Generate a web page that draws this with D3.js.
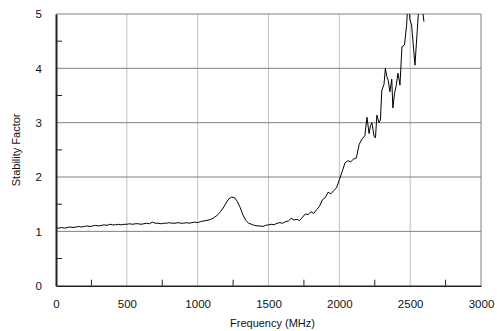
<!DOCTYPE html>
<html>
<head>
<meta charset="utf-8">
<script src="https://cdn.jsdelivr.net/npm/d3@7"></script>
<style>
  body { margin: 0; background: #fff; }
  text { font-family: "Liberation Sans", Arial, sans-serif; fill: #111; }
</style>
</head>
<body>
<svg id="chart" width="497" height="331"></svg>
<script>
// Stability factor vs frequency
const FREQ = [
  0, 20, 40, 60, 80, 100, 120, 140, 160, 180, 200, 220, 240, 260, 280, 300,
  320, 340, 360, 380, 400, 420, 440, 460, 480, 500, 520, 540, 560, 580, 600,
  620, 640, 660, 680, 700, 720, 740, 760, 780, 800, 820, 840, 860, 880, 900,
  920, 940, 960, 980, 1000, 1020, 1040, 1060, 1080, 1100, 1120, 1140, 1160,
  1180, 1200, 1220, 1240, 1260, 1280, 1300, 1320, 1340, 1360, 1380, 1400,
  1420, 1440, 1460, 1480, 1500, 1520, 1540, 1560, 1580, 1600, 1620, 1640,
  1660, 1680, 1700, 1720, 1740, 1760, 1780, 1800, 1820, 1840, 1860, 1880,
  1900, 1920, 1940, 1960, 1980, 2000, 2020, 2040, 2060, 2080, 2100, 2120,
  2140, 2160, 2180, 2195, 2210, 2220, 2230, 2245, 2255, 2265, 2280, 2290,
  2300, 2315, 2325, 2335, 2345, 2357, 2370, 2378, 2390, 2400, 2414, 2428,
  2442, 2460, 2475, 2488, 2498, 2510, 2534, 2550, 2565, 2583, 2597
];
const STABILITY = [
  1.07, 1.06, 1.07, 1.06, 1.07, 1.08, 1.07, 1.08, 1.09, 1.08, 1.09, 1.10, 1.09, 1.10, 1.11, 1.10,
  1.11, 1.12, 1.11, 1.13, 1.12, 1.12, 1.13, 1.12, 1.13, 1.13, 1.14, 1.13, 1.14, 1.14, 1.13,
  1.14, 1.15, 1.14, 1.17, 1.15, 1.15, 1.14, 1.15, 1.15, 1.16, 1.15, 1.15, 1.16, 1.15, 1.15,
  1.16, 1.15, 1.16, 1.17, 1.16, 1.18, 1.19, 1.20, 1.21, 1.23, 1.26, 1.30, 1.36,
  1.43, 1.52, 1.60, 1.63, 1.62, 1.55, 1.44, 1.30, 1.20, 1.15, 1.13, 1.11,
  1.10, 1.10, 1.09, 1.11, 1.12, 1.13, 1.12, 1.15, 1.16, 1.15, 1.18, 1.19,
  1.24, 1.21, 1.22, 1.20, 1.26, 1.32, 1.31, 1.36, 1.33, 1.40, 1.46, 1.58,
  1.62, 1.72, 1.69, 1.75, 1.80, 1.95, 2.10, 2.26, 2.30, 2.28, 2.33, 2.35,
  2.60, 2.70, 2.76, 3.10, 2.80, 2.95, 3.00, 2.75, 2.72, 3.14, 3.00, 3.05,
  3.60, 3.70, 4.00, 3.85, 3.78, 3.57, 3.80, 3.27, 3.55, 3.66, 3.91, 3.69,
  4.40, 4.43, 4.80, 5.40, 4.90, 4.80, 4.06, 4.70, 5.30, 5.20, 4.86
];
const X_TICKS = [0, 500, 1000, 1500, 2000, 2500, 3000];
const Y_TICKS = [0, 1, 2, 3, 4, 5];
const X_MINOR = [250, 750, 1250, 1750, 2250, 2750];
const Y_MINOR = [0.5, 1.5, 2.5, 3.5, 4.5];

const svg = d3.select('#chart');
const L = 56, R = 481, T = 14, B = 285.7;
const FONT = '"Liberation Sans", Arial, sans-serif';

const x = d3.scaleLinear().domain([0, 3000]).range([L, R]);
const y = d3.scaleLinear().domain([0, 5]).range([B, T]);

svg.append('defs').append('clipPath').attr('id', 'plot-clip')
  .append('rect').attr('x', L).attr('y', T).attr('width', R - L).attr('height', B - T);

// vertical grid (light)
svg.append('g').selectAll('line')
  .data(X_TICKS.filter(d => d > 0 && d < 3000))
  .join('line')
  .attr('x1', d => x(d)).attr('x2', d => x(d))
  .attr('y1', T).attr('y2', B)
  .attr('stroke', '#c0c0c0').attr('stroke-width', 1);

// horizontal grid (darker)
svg.append('g').selectAll('line')
  .data(Y_TICKS.filter(d => d > 0))
  .join('line')
  .attr('x1', L).attr('x2', R)
  .attr('y1', d => y(d)).attr('y2', d => y(d))
  .attr('stroke', '#808080').attr('stroke-width', 1);

// right border
svg.append('line')
  .attr('x1', R).attr('x2', R).attr('y1', T).attr('y2', B)
  .attr('stroke', '#808080').attr('stroke-width', 1);

// data line
const line = d3.line().x((d, i) => x(FREQ[i])).y(d => y(d));
svg.append('path')
  .datum(STABILITY)
  .attr('clip-path', 'url(#plot-clip)')
  .attr('d', line)
  .attr('fill', 'none')
  .attr('stroke', '#000')
  .attr('stroke-width', 1);

// axes
const xAxis = d3.axisBottom(x).tickValues(X_TICKS).tickFormat(d3.format('d')).tickSize(0).tickPadding(14);
const gx = svg.append('g').attr('transform', `translate(0,${B})`).call(xAxis);
gx.select('.domain').attr('stroke', '#222').attr('stroke-width', 1.5);
gx.selectAll('text').attr('font-size', 11.5).attr('font-family', FONT).attr('fill', '#111');

const yAxis = d3.axisLeft(y).tickValues(Y_TICKS).tickFormat(d3.format('d')).tickSize(0).tickPadding(14);
const gy = svg.append('g').attr('transform', `translate(${L},0)`).call(yAxis);
gy.select('.domain').attr('stroke', '#222').attr('stroke-width', 2);
gy.selectAll('text').attr('font-size', 11.5).attr('font-family', FONT).attr('fill', '#111');

// minor ticks, drawn inside the plot
svg.append('g').selectAll('line')
  .data(X_MINOR).join('line')
  .attr('x1', d => x(d)).attr('x2', d => x(d))
  .attr('y1', B).attr('y2', B - 6)
  .attr('stroke', '#222').attr('stroke-width', 1);
svg.append('g').selectAll('line')
  .data(Y_MINOR).join('line')
  .attr('x1', L).attr('x2', L + 6)
  .attr('y1', d => y(d)).attr('y2', d => y(d))
  .attr('stroke', '#222').attr('stroke-width', 1);

// axis titles
svg.append('text')
  .attr('x', (L + R) / 2 + 4).attr('y', 327)
  .attr('text-anchor', 'middle')
  .attr('font-family', FONT)
  .attr('font-size', 11)
  .text('Frequency (MHz)');

svg.append('text')
  .attr('transform', `translate(20,${(T + B) / 2}) rotate(-90)`)
  .attr('text-anchor', 'middle')
  .attr('font-family', FONT)
  .attr('font-size', 11)
  .text('Stability Factor');
</script>
</body>
</html>
